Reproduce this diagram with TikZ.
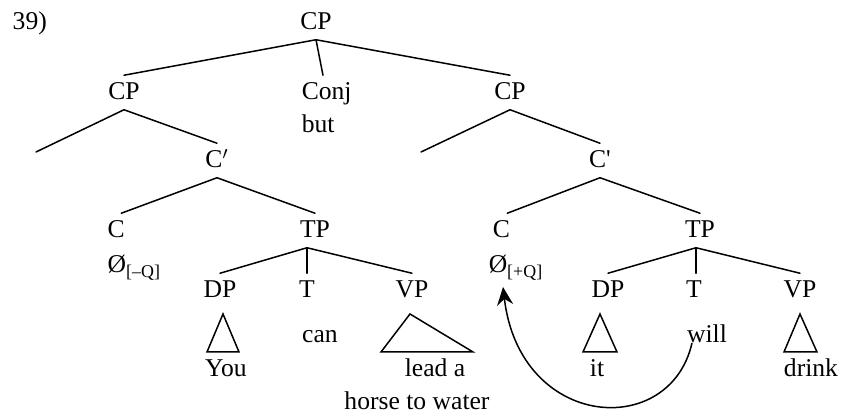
\documentclass[tikz,border=0pt]{standalone}
\usepackage{fontspec}
\setmainfont{Liberation Serif}
\usetikzlibrary{calc,arrows.meta}
\begin{document}
\begin{tikzpicture}[x=0.5pt,y=-0.5pt, line width=0.75pt,
  lab/.style={inner xsep=0pt, inner ysep=4.5pt, text height=7.5pt, text depth=0pt, anchor=base, font=\fontsize{12.8}{15}\selectfont},
  branch/.style={line cap=round},
  roof/.style={line join=miter},
  move/.style={-{Stealth[length=9pt,width=8pt,inset=3pt]}}]
\useasboundingbox (0,0) rectangle (848,415);
% labels
\node[lab,anchor=base west] (ex) at (12,30) {39)};
\node[lab] (cp) at (316,30) {CP};
\node[lab] (cpL) at (124,100) {CP};
\node[lab,anchor=base west] (conj) at (301,100) {Conj};
\node[lab,anchor=base west] (but) at (301,133) {but};
\node[lab] (cpR) at (510,100) {CP};
\node[lab] (cbL) at (217,168) {C$'$};
\node[lab] (cbR) at (600,168) {C\textquotesingle};
\node[lab,anchor=base west] (cL) at (107,238) {C};
\node[lab,anchor=base west] (nullL) at (107,273) {Ø\textsubscript{[–Q]}};
\node[lab] (tpL) at (315,238) {TP};
\node[lab,anchor=base west] (cR) at (492,238) {C};
\node[lab,anchor=base west] (nullR) at (488,273) {Ø\textsubscript{[+Q]}};
\node[lab] (tpR) at (700,238) {TP};
\node[lab] (dpL) at (220,298) {DP};
\node[lab] (tL) at (307,298) {T};
\node[lab] (vpL) at (412,298) {VP};
\node[lab] (can) at (320,343) {can};
\node[lab] (you) at (226,377) {You};
\node[lab] (lead) at (435,377) {lead a};
\node[lab] (horse) at (417,410) {horse to water};
\node[lab] (dpR) at (608,298) {DP};
\node[lab] (tR) at (694,298) {T};
\node[lab] (vpR) at (800,298) {VP};
\node[lab] (will) at (707,343) {will};
\node[lab] (it) at (597,377) {it};
\node[lab] (drink) at (811,377) {drink};
\coordinate (specL) at (36,152);
\coordinate (specR) at (421,152);
% branches
\draw[branch] (cp.south) -- (cpL.north);
\draw[branch] (cp.south) -- ($(conj.north west)+(22,0)$);
\draw[branch] (cp.south) -- (cpR.north);
\draw[branch] (cpL.south) -- (specL);
\draw[branch] (cpL.south) -- (cbL.north);
\draw[branch] (cbL.south) -- ($(cL.north)+(5,0)$);
\draw[branch] (cbL.south) -- (tpL.north);
\draw[branch] ($(tpL.south)+(-8,0)$) -- (dpL.north);
\draw[branch] ($(tpL.south)+(-8,0)$) -- (tL.north);
\draw[branch] ($(tpL.south)+(-8,0)$) -- (vpL.north);
\draw[branch] (cpR.south) -- (specR);
\draw[branch] (cpR.south) -- (cbR.north);
\draw[branch] (cbR.south) -- ($(cR.north)+(6,0)$);
\draw[branch] (cbR.south) -- (tpR.north);
\draw[branch] ($(tpR.south)+(-4,0)$) -- (dpR.north);
\draw[branch] ($(tpR.south)+(-4,0)$) -- ($(tR.north)+(2,0)$);
\draw[branch] ($(tpR.south)+(-4,0)$) -- (vpR.north);
% roofs
\draw[roof] ($(dpL.base)+(3,16)$) -- ($(dpL.base)+(-13,54)$) -- ($(dpL.base)+(19,54)$) -- cycle;
\draw[roof] ($(vpL.base)+(-2,16)$) -- ($(vpL.base)+(-31,54)$) -- ($(vpL.base)+(61,54)$) -- cycle;
\draw[roof] ($(dpR.base)+(-8,16)$) -- ($(dpR.base)+(-25,54)$) -- ($(dpR.base)+(9,54)$) -- cycle;
\draw[roof] ($(vpR.base)+(0,16)$) -- ($(vpR.base)+(-16,54)$) -- ($(vpR.base)+(17,54)$) -- cycle;
% movement arrow
\draw[move] ($(will.base)+(-15,0)$) .. controls +(-22,97) and +(17,143) .. ($(nullR.base west)+(15,14)$);
\end{tikzpicture}
\end{document}
